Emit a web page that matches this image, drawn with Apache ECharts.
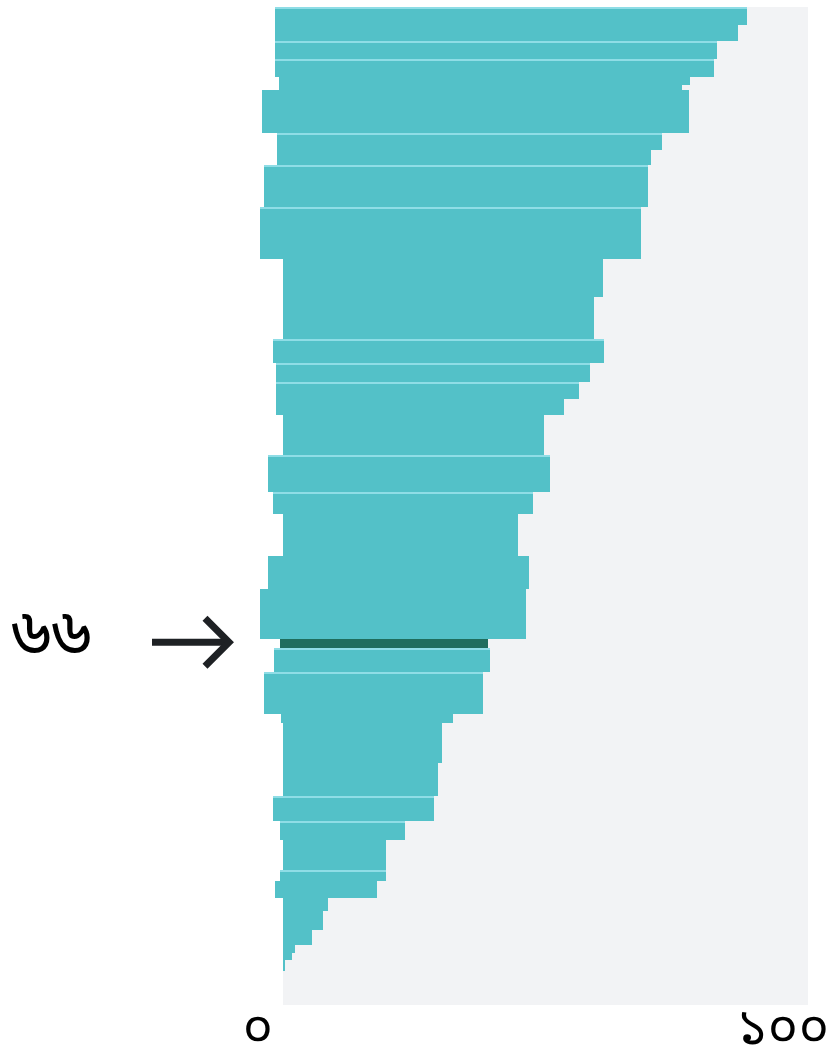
<!DOCTYPE html>
<html>
<head>
<meta charset="utf-8">
<script src="https://cdn.jsdelivr.net/npm/echarts@6/dist/echarts.min.js"></script>
<style>
html,body{margin:0;padding:0;background:#ffffff;}
#chart{width:827px;height:1051px;}
</style>
</head>
<body>
<div id="chart"></div>
<script>
// Height (share, %) of each step, top to bottom
const heights = [1.8,1.6,1.8,1.8,0.8,0.5,4.3,1.7,1.5,4.2,5.3,3.8,4.2,2.4,1.9,1.7,1.6,4.0,3.7,2.2,4.2,3.3,5.0,0.9,2.4,4.2,0.9,4.1,3.3,2.5,1.9,3.0,1.1,1.7,1.3,1.9,1.5,0.8,0.7,1.1];
// Left edge value of each step
const leftVals = [-1.5,-1.5,-1.5,-1.5,-0.8,-0.8,-4.0,-1.1,-1.1,-3.6,-4.4,0,0,-1.9,-1.3,-1.3,-1.3,0,-2.9,-1.9,0,-2.9,-4.4,-0.6,-1.7,-3.6,-0.4,0,0,-1.9,-0.6,0,-0.6,-1.5,0,0,0,0,0,0];
// Right edge value of each step
const rightVals = [88.4,86.7,82.7,82.1,77.5,76.0,77.3,72.2,70.1,69.5,68.2,61.0,59.2,61.1,58.5,56.4,53.5,49.7,50.9,47.6,44.8,46.9,46.3,39.0,39.4,38.1,32.4,30.3,29.5,28.8,23.2,19.6,19.6,17.9,8.6,7.6,5.5,2.3,1.7,0.4];
// Steps that begin a new group (0-based indices)
const groupStarts = [0,2,3,7,9,10,13,14,15,18,19,24,25,29,30,32];
// Highlighted step and its annotation
const highlightIndex = 23;
const highlightLabel = '৬৬';
// Axis tick labels
const xTickValues = [0, 100];
const xTickLabels = ['০', '১০০'];

const seriesData = [];
let acc = 0;
for (let i = 0; i < heights.length; i++) {
  seriesData.push([leftVals[i], rightVals[i], acc, acc + heights[i], groupStarts.indexOf(i) >= 0 ? 1 : 0, i === highlightIndex ? 1 : 0]);
  acc += heights[i];
}

const bengaliFont = 'Noto Sans Bengali, Lohit Bengali, FreeSans, Noto Sans, sans-serif';
const chart = echarts.init(document.getElementById('chart'), null, {renderer: 'canvas'});
const option = {
  animation: false,
  backgroundColor: '#ffffff',
  grid: {left: 283, right: 19, top: 7, bottom: 46, containLabel: false, outerBoundsMode: 'none', show: true, backgroundColor: '#F2F3F5', borderWidth: 0},
  xAxis: {
    type: 'value', min: 0, max: 100, interval: 100,
    axisLine: {show: false}, axisTick: {show: false}, splitLine: {show: false},
    axisLabel: {
      margin: 4, fontSize: 52, color: '#000', fontFamily: bengaliFont,
      padding: [0, 50, 0, 0],
      formatter: function (v) { const k = xTickValues.indexOf(v); return k >= 0 ? xTickLabels[k] : ''; }
    }
  },
  yAxis: {type: 'value', min: 0, max: 100, inverse: true, show: false},
  series: [{
    type: 'custom',
    clip: false,
    data: seriesData,
    encode: {x: [0, 1], y: [2, 3]},
    renderItem: function (params, api) {
      const p0 = api.coord([api.value(0), api.value(2)]);
      const p1 = api.coord([api.value(1), api.value(3)]);
      const x0 = Math.round(p0[0]), x1 = Math.round(p1[0]);
      const y0 = Math.round(p0[1]), y1 = Math.round(p1[1]);
      const dark = api.value(5) === 1;
      const children = [{
        type: 'rect',
        shape: {x: x0, y: y0, width: x1 - x0, height: y1 - y0},
        style: {fill: dark ? '#1F6E5E' : '#53C1C8'}
      }];
      if (api.value(4) === 1) {
        children.push({
          type: 'rect',
          shape: {x: x0, y: y0, width: x1 - x0, height: 2},
          style: {fill: '#8FDDE6'}
        });
      }
      return {type: 'group', children: children};
    }
  }]
};
chart.setOption(option);

const hi = seriesData[highlightIndex];
const yMid = chart.convertToPixel({gridIndex: 0}, [0, (hi[2] + hi[3]) / 2])[1];
chart.setOption({
  graphic: [
    {type: 'text', left: 11, top: yMid - 34, style: {text: highlightLabel, fontSize: 68, fill: '#000', fontFamily: bengaliFont}},
    {type: 'line', shape: {x1: 152, y1: yMid - 1, x2: 228, y2: yMid - 1}, style: {stroke: '#1E2124', lineWidth: 7}},
    {type: 'polyline', shape: {points: [[205, yMid - 25], [229, yMid - 1], [205, yMid + 23]]}, style: {stroke: '#1E2124', lineWidth: 7, fill: null, lineJoin: 'miter'}}
  ]
});
</script>
</body>
</html>
